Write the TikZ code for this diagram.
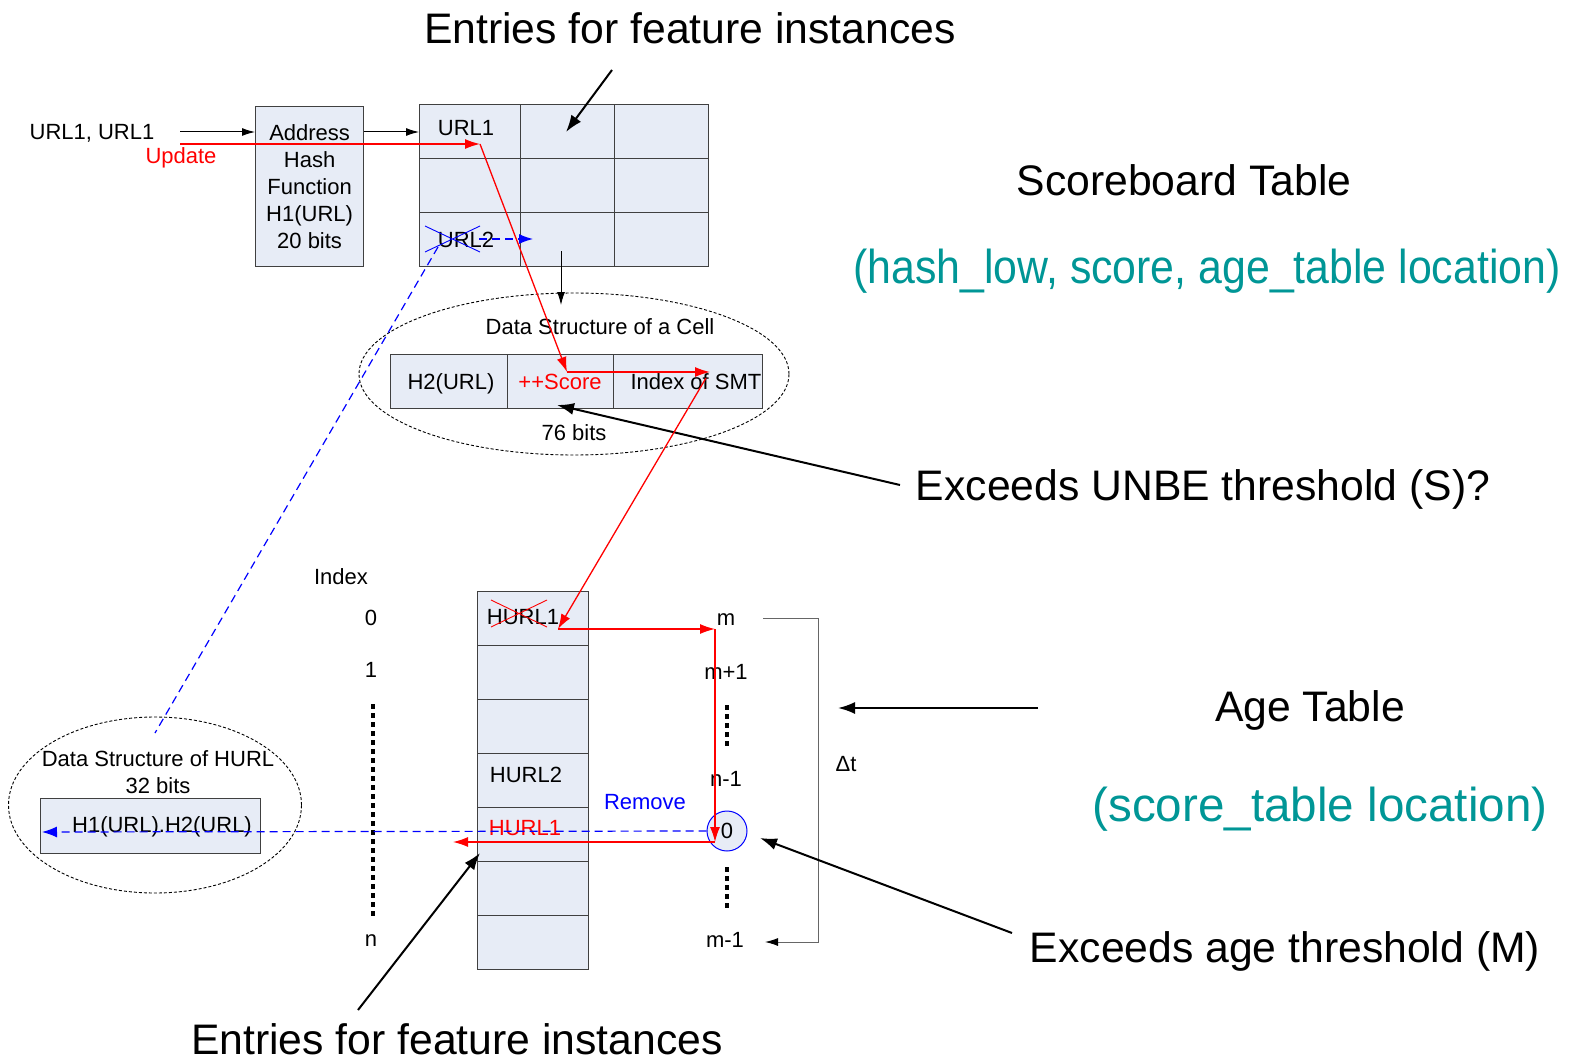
\documentclass[tikz,border=0pt]{standalone}
\usepackage{fontspec}
\setmainfont{Liberation Sans}
\usetikzlibrary{arrows.meta,shapes.geometric}
\definecolor{cellfill}{RGB}{231,236,246}
\definecolor{tealtxt}{RGB}{0,150,150}
\definecolor{gridline}{RGB}{64,64,64}

\begin{document}
\begin{tikzpicture}[x=1pt,y=-1pt,
  lbl/.style={font=\fontsize{22}{26}\selectfont, inner sep=0pt, text height=15.8pt, text depth=0pt},
  biglbl/.style={font=\fontsize{42.7}{50}\selectfont, inner sep=0pt, text height=30.5pt, text depth=0pt},
  tealbig/.style={font=\fontsize{47.6}{56}\selectfont, inner sep=0pt, text height=34pt, text depth=0pt, tealtxt},
  box/.style={draw=gridline, fill=cellfill, line width=1.2pt, inner sep=0pt, anchor=north west},
  thinarrow/.style={line width=1pt, -{Latex[length=13pt,width=8pt]}},
  redarrow/.style={red, line width=1.3pt, -{Latex[length=15pt,width=10pt]}},
  boldarrow/.style={line width=2pt, -{Latex[length=17pt,width=12pt]}},
  bluedash/.style={blue, line width=1.2pt, dash pattern=on 8pt off 5pt},
  ringdash/.style={ellipse, draw, line width=0.9pt, dash pattern=on 3pt off 2pt, inner sep=0pt},
  dots/.style={line width=4pt, dash pattern=on 5pt off 4pt},
]
\useasboundingbox (0,0) rectangle (1574,1062);

% ---------- dashed rings around the record layouts ----------
\node[ringdash, minimum width=430pt, minimum height=162pt] (cellring) at (574,374) {};
\node[ringdash, minimum width=293pt, minimum height=176pt] (hurlring) at (155,805) {};

% ---------- hash function block ----------
\node[box, minimum width=108pt, minimum height=160pt, align=center,
      font=\fontsize{22}{27}\selectfont] (hash) at (255,106)
      {Address\\Hash\\Function\\H1(URL)\\20 bits};

% ---------- scoreboard table (3 x 3) ----------
\foreach \r in {1,2,3}
  \foreach \c/\x/\w in {1/419/101, 2/520/94, 3/614/94}
    \node[box, minimum width=\w pt, minimum height=54pt] (sb-\r-\c) at (\x,{104+54*(\r-1)}) {};

% ---------- cell record ----------
\node[box, minimum width=117pt, minimum height=54pt] (fH2) at (390,354) {};
\node[box, minimum width=106pt, minimum height=54pt] (fScore) at (507,354) {};
\node[box, minimum width=149pt, minimum height=54pt] (fSMT) at (613,354) {};

% ---------- age table (7 rows) ----------
\foreach \i in {1,...,7}
  \node[box, minimum width=111pt, minimum height=54pt] (age-\i) at (477,{591+54*(\i-1)}) {};

% ---------- HURL record ----------
\node[box, minimum width=220pt, minimum height=55pt] (hurlbox) at (40,798) {};

% ---------- zero slot marker ----------
\node[circle, draw=blue, fill=cellfill, line width=1pt, minimum size=40pt, inner sep=0pt] (zero) at (727,831) {};

% ---------- small labels ----------
\node[lbl] (urlin) at (92,132) {URL1, URL1};
\node[lbl, red] (update) at (181,156) {Update};
\node[lbl] (url1) at (466,128) {URL1};
\node[lbl] (url2) at (466,240) {URL2};
\node[lbl] (celltitle) at (600,327) {Data Structure of a Cell};
\node[lbl] (tH2) at (451,382) {H2(URL)};
\node[lbl, red] (tScore) at (560,382) {++Score};
\node[lbl] (tSMT) at (696,382) {Index of SMT};
\node[lbl] (bits76) at (574,433) {76 bits};

\node[lbl] (indexlbl) at (341,577) {Index};
\node[lbl] (i0) at (371,618) {0};
\node[lbl] (i1) at (371,670) {1};
\node[lbl] (in) at (371,939) {n};

\node[lbl] (hurl1a) at (523,617) {HURL1};
\node[lbl] (hurl2) at (526,775) {HURL2};
\node[lbl, red] (hurl1b) at (525,828) {HURL1};

\node[lbl] (rm) at (726,618) {m};
\node[lbl] (rm1) at (726,672) {m+1};
\node[lbl] (rn1) at (726,779) {n-1};
\node[lbl] (r0) at (zero) {0};
\node[lbl] (rmm1) at (725,940) {m-1};
\node[lbl] (dt) at (846,764) {Δt};
\node[lbl, blue] (remove) at (645,802) {Remove};

\node[lbl] (hurltitle) at (158,759) {Data Structure of HURL};
\node[lbl] (bits32) at (158,786) {32 bits};
\node[lbl] (hurltext) at (162,825) {H1(URL).H2(URL)};

% ---------- large labels ----------
\node[biglbl] (entriesTop) at (690,28) {Entries for feature instances};
\node[biglbl] (entriesBot) at (457,1039) {Entries for feature instances};
\node[biglbl] (sbTitle) at (1184,180) {Scoreboard Table};
\node[tealbig, xscale=0.9] (sbFields) at (1207,266) {(hash\_low, score, age\_table location)};
\node[biglbl] (unbe) at (1203,485) {Exceeds UNBE threshold (S)?};
\node[biglbl] (ageTitle) at (1310,706) {Age Table};
\node[tealbig] (ageFields) at (1320,804) {(score\_table location)};
\node[biglbl] (ageThr) at (1285,947) {Exceeds age threshold (M)};

% ---------- anchor points for connectors ----------
\coordinate (inStart) at (180,132);
\coordinate (updStart) at (180,144);
\coordinate (updHit) at (480,144);
\coordinate (scoreHit) at (567,372);
\coordinate (smtHit) at (710,372);
\coordinate (smtOut) at (706,378);
\coordinate (hurlHit) at (558,629);
\coordinate (mHit) at (715,629);
\coordinate (zeroHit) at (715,842);
\coordinate (outHit) at (453,842);
\coordinate (url2Out) at (479,239);
\coordinate (url2Hit) at (533,239);
\coordinate (url2Cross) at (438,247);
\coordinate (hurlRingTop) at (155,733);
\coordinate (hurlIn) at (42,832);
\coordinate (tableDownA) at (561,251);
\coordinate (tableDownB) at (561,305);
\coordinate (entTopA) at (612,70);
\coordinate (entTopB) at (566,132);
\coordinate (entBotA) at (358,1010);
\coordinate (entBotB) at (480,853);
\coordinate (unbeA) at (900,485);
\coordinate (unbeB) at (557,405);
\coordinate (ageThrA) at (1012,933);
\coordinate (ageThrB) at (760,838);
\coordinate (ageTitleA) at (1038,708);
\coordinate (ageTitleB) at (838,708);
\coordinate (brTop) at (763,618);
\coordinate (brBot) at (765,942);

% ---------- black connectors ----------
\draw[thinarrow] (inStart) -- (inStart -| hash.west);
\draw[thinarrow] (hash.east |- inStart) -- (inStart -| sb-1-1.west);
\draw[thinarrow] (tableDownA) -- (tableDownB);
\draw[black!60, line width=1pt, -{Latex[length=13pt,width=8pt,color=black]}]
  (brTop) -- (818,618) -- (818,942) -- (brBot);

\draw[boldarrow] (entTopA) -- (entTopB);
\draw[boldarrow] (entBotA) -- (entBotB);
\draw[boldarrow] (unbeA) -- (unbeB);
\draw[boldarrow] (ageThrA) -- (ageThrB);
\draw[boldarrow] (ageTitleA) -- (ageTitleB);

% ---------- ellipsis dots ----------
\draw[dots] (373,704) -- (373,916);
\draw[dots] (727,705) -- (727,748);
\draw[dots] (727,867) -- (727,910);

% ---------- crossed-out entries ----------
\draw[blue, line width=0.9pt] (425,226) -- (480,252) (425,252) -- (480,226);
\draw[red, line width=0.9pt] (491,600) -- (547,627) (491,627) -- (547,600);

% ---------- blue dashed paths ----------
\draw[bluedash] (url2Cross) -- (hurlRingTop);
\draw[bluedash, -{Latex[length=14pt,width=10pt]}] (url2Out) -- (url2Hit);
\draw[bluedash, -{Latex[length=15pt,width=11pt]}] (zero.west) -- (hurlIn);

% ---------- red update path ----------
\draw[redarrow] (updStart) -- (updHit);
\draw[redarrow] (updHit) -- (scoreHit);
\draw[redarrow] (scoreHit) -- (smtHit);
\draw[redarrow] (smtOut) -- (hurlHit);
\draw[redarrow] (hurlHit) -- (mHit);
\draw[redarrow] (mHit) -- (zeroHit);
\draw[redarrow] (zeroHit) -- (outHit);
\end{tikzpicture}
\end{document}
